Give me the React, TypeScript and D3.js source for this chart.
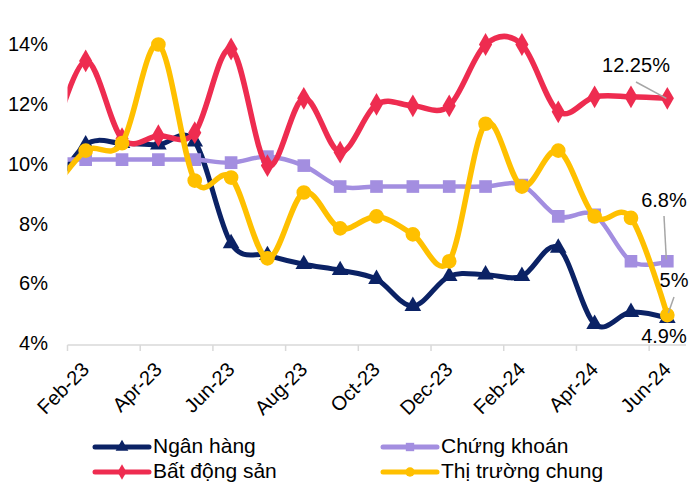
import React from 'react';
import * as d3 from 'd3';

// Monthly categories; Jan-23 sits just left of the plot and is clipped away
const months = [
  'Jan-23', 'Feb-23', 'Mar-23', 'Apr-23', 'May-23', 'Jun-23', 'Jul-23', 'Aug-23', 'Sep-23',
  'Oct-23', 'Nov-23', 'Dec-23', 'Jan-24', 'Feb-24', 'Mar-24', 'Apr-24', 'May-24', 'Jun-24',
];

const nganHang = [9.0, 10.7, 10.75, 10.7, 10.8, 7.4, 7.0, 6.7, 6.5, 6.2, 5.3, 6.3, 6.35, 6.3, 7.25, 4.7, 5.1, 4.9];
const chungKhoan = [10.2, 10.2, 10.2, 10.2, 10.2, 10.1, 10.3, 10.0, 9.3, 9.3, 9.3, 9.3, 9.3, 9.35, 8.3, 8.35, 6.8, 6.8];
const batDongSan = [10.5, 13.5, 10.9, 11.0, 11.1, 13.9, 10.0, 12.25, 10.45, 12.05, 12.0, 12.0, 14.05, 14.05, 11.8, 12.3, 12.3, 12.25];
const thiTruong = [9.0, 10.5, 10.75, 14.05, 9.5, 9.6, 6.9, 9.1, 7.9, 8.3, 7.7, 6.8, 11.4, 9.3, 10.5, 8.3, 8.25, 5.0];

const yTicks = [4, 6, 8, 10, 12, 14];

type Marker = 'triangle' | 'square' | 'diamond' | 'circle';

const series: { name: string; values: number[]; color: string; marker: Marker; width: number }[] = [
  { name: 'Ngân hàng', values: nganHang, color: '#0b2265', marker: 'triangle', width: 5 },
  { name: 'Chứng khoán', values: chungKhoan, color: '#a38ee0', marker: 'square', width: 4.5 },
  { name: 'Bất động sản', values: batDongSan, color: '#ee2c50', marker: 'diamond', width: 5.5 },
  { name: 'Thị trường chung', values: thiTruong, color: '#ffc000', marker: 'circle', width: 5.5 },
];

const FONT = "'Liberation Sans', Arial, sans-serif";
const W = 689;
const H = 483;

const x = d3.scaleLinear().domain([0.5, 17.5]).range([67.5, 685.5]);
const y = d3.scaleLinear().domain([4, 14]).range([345, 46]);

const symbolPath = (m: Marker, size: number) => {
  const type =
    m === 'triangle' ? d3.symbolTriangle :
    m === 'square' ? d3.symbolSquare :
    m === 'diamond' ? d3.symbolDiamond : d3.symbolCircle;
  return d3.symbol().type(type).size(size)() as string;
};

const markerSize: Record<Marker, number> = {
  triangle: 120,
  square: 160,
  diamond: 150,
  circle: 170,
};

export default function App() {
  const line = d3
    .line<number>()
    .x((_, i) => x(i))
    .y((v) => y(v))
    .curve(d3.curveCatmullRom.alpha(0));

  const axisTicks = d3.range(0.5, 17, 2);
  const labelIdx = d3.range(1, 18, 2);

  const legend = [
    { s: series[0], lx: 95, ly: 447 },
    { s: series[1], lx: 383, ly: 447 },
    { s: series[2], lx: 95, ly: 472 },
    { s: series[3], lx: 383, ly: 472 },
  ];

  const last = months.length - 1;

  return (
    <svg
      width={W}
      height={H}
      style={{ position: 'absolute', left: 0, top: 0, background: '#fff' }}
      fontFamily={FONT}
    >
      <defs>
        <clipPath id="plotClip">
          <rect x={67.5} y={0} width={620} height={400} />
        </clipPath>
      </defs>

      {/* y-axis tick labels */}
      {yTicks.map((t) => (
        <text key={t} x={48} y={y(t)} fontSize={20} textAnchor="end" dominantBaseline="middle" fill="#000">
          {t}%
        </text>
      ))}

      {/* category axis */}
      <line x1={67.5} x2={686} y1={345} y2={345} stroke="#d9d9d9" strokeWidth={1.5} />
      {axisTicks.map((t) => (
        <line key={t} x1={x(t)} x2={x(t)} y1={345} y2={351} stroke="#d9d9d9" strokeWidth={1.5} />
      ))}
      {labelIdx.map((i) => (
        <text
          key={i}
          transform={`translate(${x(i) + 1},${367}) rotate(-45)`}
          fontSize={20}
          textAnchor="end"
          dominantBaseline="middle"
          fill="#000"
        >
          {months[i]}
        </text>
      ))}

      {/* series lines and markers */}
      <g clipPath="url(#plotClip)">
        {series.map((s) => (
          <g key={s.name}>
            <path d={line(s.values) as string} fill="none" stroke={s.color} strokeWidth={s.width} strokeLinejoin="round" />
            {s.values.map((v, i) =>
              i === 0 ? null : (
                <path
                  key={i}
                  d={symbolPath(s.marker, markerSize[s.marker])}
                  transform={`translate(${x(i)},${y(v)})`}
                  fill={s.color}
                />
              )
            )}
          </g>
        ))}
      </g>

      {/* value callouts for the latest month */}
      <line x1={636} y1={82} x2={x(last) - 1} y2={y(batDongSan[last])} stroke="#a6a6a6" strokeWidth={1.5} />
      <text x={636} y={67} fontSize={20} textAnchor="middle" dominantBaseline="middle" fill="#000">
        {batDongSan[last]}%
      </text>

      <line x1={664} y1={216} x2={x(last) - 1} y2={y(chungKhoan[last]) - 2} stroke="#a6a6a6" strokeWidth={1.5} />
      <text x={664} y={202} fontSize={20} textAnchor="middle" dominantBaseline="middle" fill="#000">
        {chungKhoan[last]}%
      </text>

      <line x1={674} y1={297} x2={x(last) + 1} y2={y(thiTruong[last]) - 2} stroke="#a6a6a6" strokeWidth={1.5} />
      <text x={674} y={282} fontSize={20} textAnchor="middle" dominantBaseline="middle" fill="#000">
        {thiTruong[last]}%
      </text>

      <text x={664} y={338} fontSize={20} textAnchor="middle" dominantBaseline="middle" fill="#000">
        {nganHang[last]}%
      </text>

      {/* legend */}
      {legend.map(({ s, lx, ly }) => (
        <g key={s.name}>
          <line x1={lx} x2={lx + 54} y1={ly} y2={ly} stroke={s.color} strokeWidth={5} strokeLinecap="round" />
          <path d={symbolPath(s.marker, 70)} transform={`translate(${lx + 27},${ly})`} fill={s.color} />
          <text x={lx + 58} y={ly} fontSize={21} dominantBaseline="middle" fill="#000">
            {s.name}
          </text>
        </g>
      ))}
    </svg>
  );
}
